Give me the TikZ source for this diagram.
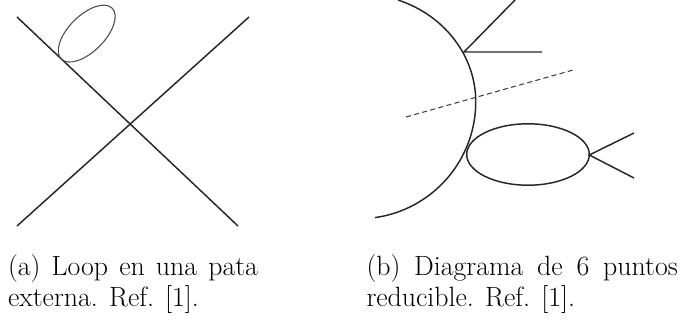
\documentclass[tikz,border=0pt]{standalone}
\usepackage{tikz}
\usetikzlibrary{positioning}
\usetikzlibrary{calc}

\tikzset{
  feyn/.style={line width=1.1pt, black!85},
  thinloop/.style={line width=0.8pt, black!70},
  cortan/.style={line width=0.8pt, black!75, dash pattern=on 3.8pt off 2.5pt},
  caption/.style={anchor=base west, inner sep=0pt, outer sep=0pt, font=\fontsize{20.9}{24}\selectfont}
}

\begin{document}
\begin{tikzpicture}[x=0.75pt,y=0.75pt]

\useasboundingbox (0,0) rectangle (682,322);
\clip (0,0) rectangle (682,322);

%---------------------------------------
% (a) Left panel
%---------------------------------------
\begin{scope}
  % Legs
  \coordinate (legA) at (17,305);
  \coordinate (legB) at (238,96);
  \coordinate (legC) at (249,305);
  \coordinate (legD) at (17,96);

  \draw[feyn] (legA) -- (legB);
  \draw[feyn] (legC) -- (legD);

  % Loop on the leg
  \draw[thinloop, rotate around={45:(86.7,288.4)}]
    (86.7,288.4) ellipse [x radius=36, y radius=18];

  \node[caption] (capAone) at (8,47) {\makebox[187.5pt][s]{(a) Loop en una pata}};
  \node[caption] (capAtwo) at (8,15.3) {externa. Ref. [1].};
\end{scope}

%---------------------------------------
% (b) Right panel
%---------------------------------------
\begin{scope}
  \coordinate (vertTop) at (464,270);
  \coordinate (legUp) at (515,322);
  \coordinate (legFlat) at (542,270);
  \coordinate (vertLoop) at (589.3,167);
  \coordinate (legHi) at (634,189);
  \coordinate (legLo) at (634,144);
  \coordinate (cutL) at (406,205);
  \coordinate (cutR) at (573,252);

  % Big arc
  \draw[feyn] (398,322) arc [start angle=70.4, end angle=0, x radius=117, y radius=108]
    arc [start angle=0, end angle=-82, radius=117];

  \draw[feyn] (legUp) -- (vertTop) -- (legFlat);

  % Bubble
  \draw[feyn] (528,167.5) ellipse [x radius=61.3, y radius=30.7];
  \draw[feyn] (legHi) -- (vertLoop) -- (legLo);

  % Cut
  \draw[cortan] (cutL) -- (cutR);

  \node[caption] (capBone) at (366.5,47) {\makebox[233.5pt][s]{(b) Diagrama de 6 puntos}};
  \node[caption] (capBtwo) at (366.5,15.3) {reducible. Ref. [1].};
\end{scope}

\end{tikzpicture}
\end{document}
